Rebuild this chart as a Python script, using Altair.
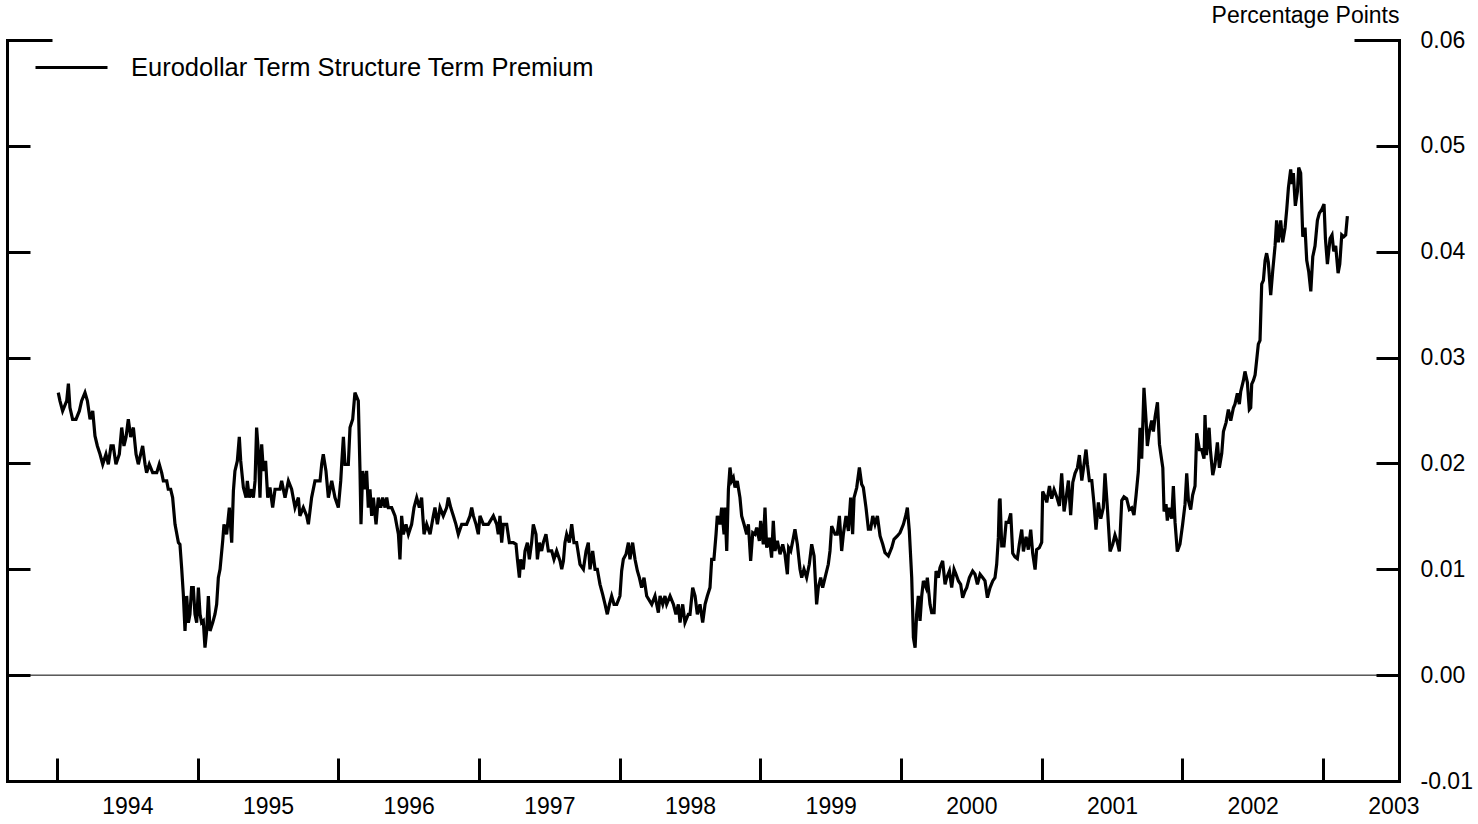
import altair as alt
import pandas as pd

SERIES = "Eurodollar Term Structure Term Premium"
FONT = "Liberation Sans"

# Weekly term premium, decimal year -> value (percentage points)
t_1994 = [1994.009, 1994.021, 1994.040, 1994.069, 1994.081, 1994.092, 1994.111, 1994.135, 1994.159, 1994.175,
          1994.199, 1994.216, 1994.235, 1994.254, 1994.270, 1994.287, 1994.306, 1994.325, 1994.348, 1994.365,
          1994.384, 1994.400, 1994.419, 1994.443, 1994.460, 1994.476, 1994.491, 1994.507, 1994.524, 1994.543,
          1994.562, 1994.578, 1994.595, 1994.609, 1994.626, 1994.637, 1994.656, 1994.680, 1994.709, 1994.727,
          1994.744, 1994.756, 1994.780, 1994.791, 1994.808, 1994.822, 1994.839, 1994.863, 1994.874, 1994.886,
          1994.898, 1994.910, 1994.922, 1994.934, 1994.945, 1994.957, 1994.969, 1994.981, 1994.993, 1995.005,
          1995.017, 1995.028, 1995.040, 1995.052, 1995.064, 1995.076, 1995.088, 1995.107, 1995.123, 1995.135,
          1995.147, 1995.159, 1995.178, 1995.187, 1995.206, 1995.225, 1995.242, 1995.254, 1995.265, 1995.282,
          1995.296, 1995.306, 1995.325, 1995.344, 1995.353, 1995.367, 1995.384, 1995.396, 1995.408, 1995.419,
          1995.431, 1995.443, 1995.455, 1995.467, 1995.483, 1995.498, 1995.514, 1995.533, 1995.550, 1995.585,
          1995.597, 1995.621, 1995.645, 1995.668, 1995.692, 1995.716, 1995.727, 1995.751, 1995.775, 1995.787,
          1995.810, 1995.834, 1995.870, 1995.882, 1995.893, 1995.912, 1995.929, 1995.953, 1995.976, 1996.000,
          1996.017, 1996.024, 1996.036, 1996.047, 1996.071, 1996.083, 1996.102, 1996.118, 1996.142, 1996.154,
          1996.161, 1996.173, 1996.190, 1996.201, 1996.213, 1996.225, 1996.237, 1996.249, 1996.268, 1996.284,
          1996.301, 1996.315, 1996.332, 1996.344, 1996.355, 1996.379, 1996.403, 1996.427, 1996.438, 1996.450,
          1996.462, 1996.481, 1996.498, 1996.521, 1996.538, 1996.557, 1996.576, 1996.592, 1996.609, 1996.628,
          1996.652, 1996.675, 1996.687, 1996.704, 1996.723, 1996.746, 1996.770, 1996.782, 1996.799, 1996.818,
          1996.836, 1996.853, 1996.877, 1996.912, 1996.936, 1996.948, 1996.960, 1996.979, 1996.995, 1997.007,
          1997.031, 1997.066, 1997.102, 1997.126, 1997.137]
v_1994 = [0.02669, 0.02591, 0.02496, 0.02591, 0.02754, 0.02528, 0.02417, 0.02417, 0.02496, 0.02591,
          0.02669, 0.02591, 0.02417, 0.02496, 0.02260, 0.02165, 0.02087, 0.01992, 0.02087, 0.01992,
          0.02165, 0.02165, 0.01992, 0.02087, 0.02339, 0.02165, 0.02250, 0.02417, 0.02250, 0.02339,
          0.02087, 0.01992, 0.02087, 0.02165, 0.01992, 0.01913, 0.01992, 0.01913, 0.01913, 0.01992,
          0.01913, 0.01835, 0.01835, 0.01756, 0.01756, 0.01677, 0.01425, 0.01252, 0.01236, 0.01016,
          0.00764, 0.00417, 0.00748, 0.00496, 0.00575, 0.00827, 0.00827, 0.00575, 0.00496, 0.00827,
          0.00575, 0.00496, 0.00512, 0.00260, 0.00417, 0.00748, 0.00417, 0.00496, 0.00575, 0.00669,
          0.00921, 0.01000, 0.01268, 0.01425, 0.01331, 0.01583, 0.01252, 0.01740, 0.01929, 0.02024,
          0.02250, 0.02024, 0.01772, 0.01677, 0.01835, 0.01677, 0.01756, 0.01677, 0.01835, 0.02339,
          0.02118, 0.01677, 0.02181, 0.01929, 0.02024, 0.01677, 0.01772, 0.01583, 0.01756, 0.01756,
          0.01835, 0.01677, 0.01835, 0.01756, 0.01583, 0.01677, 0.01504, 0.01583, 0.01504, 0.01425,
          0.01677, 0.01835, 0.01835, 0.01998, 0.02087, 0.01929, 0.01677, 0.01835, 0.01677, 0.01583,
          0.01835, 0.01998, 0.02250, 0.01992, 0.01992, 0.02339, 0.02417, 0.02669, 0.02591, 0.01929,
          0.01425, 0.01929, 0.01756, 0.01929, 0.01583, 0.01756, 0.01504, 0.01677, 0.01425, 0.01677,
          0.01583, 0.01677, 0.01583, 0.01677, 0.01583, 0.01583, 0.01504, 0.01331, 0.01094, 0.01504,
          0.01331, 0.01425, 0.01331, 0.01425, 0.01583, 0.01677, 0.01583, 0.01677, 0.01331, 0.01425,
          0.01331, 0.01504, 0.01583, 0.01425, 0.01583, 0.01504, 0.01583, 0.01677, 0.01583, 0.01504,
          0.01425, 0.01331, 0.01425, 0.01425, 0.01504, 0.01583, 0.01504, 0.01425, 0.01331, 0.01504,
          0.01425, 0.01425, 0.01504, 0.01425, 0.01331]

t_1997 = [1997.149, 1997.161, 1997.173, 1997.197, 1997.216, 1997.244, 1997.263, 1997.273, 1997.287, 1997.296,
          1997.315, 1997.327, 1997.344, 1997.358, 1997.374, 1997.386, 1997.405, 1997.415, 1997.429, 1997.445,
          1997.457, 1997.476, 1997.493, 1997.517, 1997.533, 1997.552, 1997.576, 1997.588, 1997.600, 1997.611,
          1997.623, 1997.642, 1997.659, 1997.675, 1997.694, 1997.718, 1997.742, 1997.761, 1997.777, 1997.789,
          1997.808, 1997.825, 1997.841, 1997.860, 1997.879, 1997.896, 1997.912, 1997.927, 1997.943, 1997.960,
          1997.979, 1998.002, 1998.014, 1998.026, 1998.045, 1998.062, 1998.073, 1998.092, 1998.109, 1998.126,
          1998.140, 1998.156, 1998.173, 1998.192, 1998.228, 1998.251, 1998.275, 1998.287, 1998.306, 1998.322,
          1998.334, 1998.358, 1998.382, 1998.400, 1998.417, 1998.429, 1998.448, 1998.464, 1998.488, 1998.500,
          1998.519, 1998.536, 1998.552, 1998.571, 1998.590, 1998.607, 1998.623, 1998.642, 1998.654, 1998.670,
          1998.685, 1998.694, 1998.713, 1998.725, 1998.742, 1998.749, 1998.761, 1998.773, 1998.784, 1998.796,
          1998.808, 1998.820, 1998.836, 1998.855, 1998.867, 1998.884, 1998.903, 1998.915, 1998.931, 1998.946,
          1998.962, 1998.974, 1998.993, 1999.002, 1999.021, 1999.033, 1999.045, 1999.064, 1999.080, 1999.092,
          1999.104, 1999.121, 1999.140, 1999.159, 1999.175, 1999.192, 1999.201, 1999.216, 1999.235, 1999.246,
          1999.263, 1999.282, 1999.294, 1999.310, 1999.329, 1999.348, 1999.365, 1999.382, 1999.400, 1999.412,
          1999.429, 1999.443, 1999.460, 1999.483, 1999.495, 1999.507, 1999.531, 1999.547, 1999.562, 1999.578,
          1999.590, 1999.609, 1999.626, 1999.642, 1999.656, 1999.666, 1999.685, 1999.704, 1999.720, 1999.732,
          1999.751, 1999.768, 1999.784, 1999.799, 1999.815, 1999.832, 1999.851, 1999.870, 1999.886, 1999.910,
          1999.934, 1999.950, 1999.974, 1999.993, 2000.017, 2000.036, 2000.045, 2000.059, 2000.076, 2000.088,
          2000.100, 2000.111, 2000.123, 2000.135, 2000.147, 2000.159, 2000.178, 2000.187, 2000.206, 2000.218,
          2000.235, 2000.249, 2000.265, 2000.277, 2000.296, 2000.313, 2000.325, 2000.344, 2000.360, 2000.377,
          2000.391, 2000.408, 2000.424, 2000.438, 2000.455, 2000.467, 2000.486, 2000.509, 2000.526, 2000.543,
          2000.562, 2000.581, 2000.597, 2000.614, 2000.633, 2000.652, 2000.668, 2000.680, 2000.692, 2000.699]
v_1997 = [0.01504, 0.01252, 0.01425, 0.01425, 0.01252, 0.01252, 0.01236, 0.01094, 0.00921, 0.01094,
          0.01000, 0.01173, 0.01252, 0.01094, 0.01252, 0.01425, 0.01331, 0.01094, 0.01252, 0.01173,
          0.01252, 0.01331, 0.01173, 0.01173, 0.01094, 0.01173, 0.01079, 0.01000, 0.01079, 0.01252,
          0.01331, 0.01252, 0.01425, 0.01252, 0.01252, 0.01047, 0.01000, 0.01173, 0.01252, 0.01000,
          0.01173, 0.01000, 0.01000, 0.00858, 0.00764, 0.00669, 0.00575, 0.00669, 0.00748, 0.00669,
          0.00669, 0.00748, 0.00984, 0.01094, 0.01142, 0.01252, 0.01094, 0.01252, 0.01094, 0.00984,
          0.00921, 0.00827, 0.00921, 0.00748, 0.00669, 0.00748, 0.00591, 0.00748, 0.00669, 0.00748,
          0.00669, 0.00748, 0.00669, 0.00575, 0.00669, 0.00496, 0.00669, 0.00496, 0.00575, 0.00575,
          0.00827, 0.00748, 0.00575, 0.00669, 0.00496, 0.00669, 0.00748, 0.00827, 0.01094, 0.01094,
          0.01331, 0.01504, 0.01425, 0.01583, 0.01331, 0.01583, 0.01173, 0.01756, 0.01961, 0.01835,
          0.01866, 0.01772, 0.01835, 0.01677, 0.01504, 0.01425, 0.01331, 0.01425, 0.01079, 0.01346,
          0.01331, 0.01394, 0.01268, 0.01457, 0.01236, 0.01583, 0.01205, 0.01299, 0.01110, 0.01457,
          0.01173, 0.01268, 0.01142, 0.01236, 0.01142, 0.00953, 0.01205, 0.01173, 0.01299, 0.01378,
          0.01236, 0.01000, 0.00921, 0.01000, 0.00921, 0.01047, 0.01236, 0.01126, 0.00669, 0.00827,
          0.00921, 0.00827, 0.00921, 0.01047, 0.01173, 0.01409, 0.01331, 0.01331, 0.01504, 0.01173,
          0.01331, 0.01504, 0.01362, 0.01677, 0.01331, 0.01677, 0.01772, 0.01961, 0.01803, 0.01772,
          0.01583, 0.01378, 0.01378, 0.01504, 0.01425, 0.01504, 0.01315, 0.01236, 0.01157, 0.01126,
          0.01205, 0.01283, 0.01315, 0.01346, 0.01425, 0.01520, 0.01583, 0.01362, 0.00921, 0.00354,
          0.00260, 0.00575, 0.00748, 0.00512, 0.00748, 0.00890, 0.00827, 0.00921, 0.00669, 0.00591,
          0.00591, 0.00984, 0.00921, 0.01016, 0.01079, 0.00858, 0.00921, 0.00984, 0.00827, 0.01000,
          0.00953, 0.00890, 0.00858, 0.00732, 0.00795, 0.00827, 0.00921, 0.00984, 0.00953, 0.00858,
          0.00953, 0.00921, 0.00890, 0.00732, 0.00827, 0.00890, 0.00921, 0.01047, 0.01299, 0.01646]

t_2000 = [2000.704, 2000.716, 2000.732, 2000.747, 2000.763, 2000.780, 2000.794, 2000.810, 2000.827, 2000.841,
          2000.858, 2000.870, 2000.889, 2000.905, 2000.922, 2000.936, 2000.953, 2000.964, 2000.983, 2001.000,
          2001.007, 2001.024, 2001.036, 2001.055, 2001.071, 2001.088, 2001.107, 2001.126, 2001.142, 2001.159,
          2001.173, 2001.190, 2001.206, 2001.221, 2001.237, 2001.254, 2001.268, 2001.285, 2001.301, 2001.315,
          2001.325, 2001.339, 2001.356, 2001.372, 2001.386, 2001.403, 2001.420, 2001.438, 2001.450, 2001.467,
          2001.486, 2001.505, 2001.521, 2001.538, 2001.552, 2001.569, 2001.585, 2001.604, 2001.623, 2001.640,
          2001.656, 2001.671, 2001.687, 2001.699, 2001.711, 2001.718, 2001.727, 2001.742, 2001.751, 2001.765,
          2001.782, 2001.794, 2001.806, 2001.823, 2001.837, 2001.846, 2001.861, 2001.870, 2001.884, 2001.893,
          2001.908, 2001.924, 2001.936, 2001.948, 2001.964, 2001.983, 2002.002, 2002.019, 2002.031, 2002.043,
          2002.059, 2002.073, 2002.090, 2002.102, 2002.121, 2002.137, 2002.154, 2002.161, 2002.171, 2002.190,
          2002.199, 2002.216, 2002.232, 2002.249, 2002.263, 2002.280, 2002.292, 2002.311, 2002.327, 2002.344,
          2002.363, 2002.374, 2002.391, 2002.405, 2002.415, 2002.434, 2002.445, 2002.462, 2002.476, 2002.486,
          2002.493, 2002.505, 2002.517, 2002.528, 2002.540, 2002.552, 2002.564, 2002.576, 2002.588, 2002.599,
          2002.611, 2002.628, 2002.642, 2002.659, 2002.670, 2002.682, 2002.699, 2002.713, 2002.730, 2002.742,
          2002.754, 2002.770, 2002.780, 2002.789, 2002.803, 2002.818, 2002.827, 2002.841, 2002.856, 2002.872,
          2002.884, 2002.898, 2002.913, 2002.927, 2002.943, 2002.960, 2002.974, 2002.991, 2003.007, 2003.017,
          2003.031, 2003.050, 2003.064, 2003.076, 2003.090, 2003.107, 2003.119, 2003.133, 2003.147, 2003.161,
          2003.173]
v_2000 = [0.01667, 0.01220, 0.01220, 0.01443, 0.01443, 0.01529, 0.01151, 0.01117, 0.01100, 0.01237,
          0.01375, 0.01168, 0.01306, 0.01186, 0.01375, 0.01151, 0.00997, 0.01186, 0.01203, 0.01254,
          0.01735, 0.01684, 0.01632, 0.01787, 0.01667, 0.01753, 0.01684, 0.01598, 0.01907, 0.01546,
          0.01667, 0.01838, 0.01512, 0.01821, 0.01907, 0.01959, 0.02079, 0.01838, 0.01993, 0.02131,
          0.01993, 0.01838, 0.01838, 0.01615, 0.01375, 0.01632, 0.01478, 0.01581, 0.01907, 0.01581,
          0.01168, 0.01237, 0.01323, 0.01254, 0.01168, 0.01649, 0.01684, 0.01667, 0.01564, 0.01581,
          0.01512, 0.01701, 0.01924, 0.02337, 0.02045, 0.02337, 0.02715, 0.02405, 0.02165, 0.02302,
          0.02405, 0.02302, 0.02440, 0.02577, 0.02182, 0.02096, 0.01959, 0.01546, 0.01615, 0.01460,
          0.01581, 0.01478, 0.01787, 0.01443, 0.01168, 0.01237, 0.01426, 0.01615, 0.01907, 0.01649,
          0.01564, 0.01701, 0.01787, 0.02285, 0.02131, 0.02131, 0.02045, 0.02457, 0.02079, 0.02337,
          0.02131, 0.01890, 0.01993, 0.02199, 0.01959, 0.02096, 0.02302, 0.02388, 0.02509, 0.02405,
          0.02526, 0.02560, 0.02663, 0.02560, 0.02680, 0.02784, 0.02869, 0.02766, 0.02509, 0.02526,
          0.02749, 0.02784, 0.02835, 0.02973, 0.03127, 0.03162, 0.03694, 0.03729, 0.03918, 0.03986,
          0.03900, 0.03591, 0.03814, 0.04055, 0.04296, 0.04089, 0.04296, 0.04089, 0.04227, 0.04399,
          0.04605, 0.04777, 0.04639, 0.04742, 0.04433, 0.04570, 0.04794, 0.04742, 0.04141, 0.04227,
          0.03918, 0.03814, 0.03625, 0.03952, 0.04055, 0.04296, 0.04364, 0.04399, 0.04450, 0.04124,
          0.03883, 0.04124, 0.04158, 0.04003, 0.04055, 0.03797, 0.03883, 0.04158, 0.04141, 0.04158,
          0.04337]

# Axis positions
tick_years = [1994, 1995, 1996, 1997, 1998, 1999, 2000, 2001, 2002, 2003]
label_years = [1994.5, 1995.5, 1996.5, 1997.5, 1998.5, 1999.5, 2000.5, 2001.5, 2002.5, 2003.5]
y_ticks = [-0.01, 0.0, 0.01, 0.02, 0.03, 0.04, 0.05, 0.06]
zero_level = [0.0]

assert len(t_1994) == len(v_1994)
assert len(t_1997) == len(v_1997)
assert len(t_2000) == len(v_2000)

df = pd.DataFrame({
    "year": t_1994 + t_1997 + t_2000,
    "premium": v_1994 + v_1997 + v_2000,
})
df["series"] = SERIES
zero_df = pd.DataFrame({"level": zero_level})

W, H = 1392, 741
xs = alt.Scale(domain=[1993.6446, 2003.540], nice=False, zero=False)
ys = alt.Scale(domain=[-0.01, 0.06], nice=False, zero=False)

inward_size = {"condition": {"test": "datum.value > 0.059", "value": 45}, "value": 23}

# Bottom year labels centred in each year, right-hand value labels (plain hyphen for negatives)
x_labels = alt.Axis(orient="bottom", values=label_years, labelExpr="format(floor(datum.value), 'd')",
                    ticks=False, domain=True, domainColor="black", domainWidth=3, domainCap="square",
                    labelFont=FONT, labelFontSize=23, labelColor="black", labelPadding=14,
                    labelFlush=False, labelOverlap=False, grid=False, title=None)
y_labels = alt.Axis(orient="right", values=y_ticks,
                    labelExpr="datum.value < 0 ? '-' + format(-datum.value, '.2f') : format(datum.value, '.2f')",
                    ticks=False, domain=True, domainColor="black", domainWidth=3, domainCap="square",
                    labelFont=FONT, labelFontSize=23, labelColor="black", labelPadding=21,
                    labelFlush=False, labelOverlap=False, grid=False,
                    title="Percentage Points", titleAngle=0, titleAlign="right",
                    titleBaseline="alphabetic", titleX=0, titleY=-18, titleFont=FONT,
                    titleFontSize=23, titleFontWeight="normal", titleColor="black")

# Inward-pointing ticks along the bottom, left and right edges
x_inner = alt.Axis(orient="top", offset=-H, values=tick_years, labels=False, ticks=True,
                   tickSize=23, tickWidth=3, tickColor="black", domain=False, grid=False, title=None)
y_inner_left = alt.Axis(orient="right", offset=-W, values=y_ticks, labels=False, ticks=True,
                        tickSize=inward_size, tickWidth=3, tickColor="black",
                        domain=True, domainColor="black", domainWidth=3, domainCap="square",
                        grid=False, title=None)
y_inner_right = alt.Axis(orient="left", offset=-W, values=y_ticks, labels=False, ticks=True,
                         tickSize=inward_size, tickWidth=3, tickColor="black",
                         domain=False, grid=False, title=None)

zero_rule = alt.Chart(zero_df).mark_rule(color="black", strokeWidth=1).encode(
    y=alt.Y("level:Q", scale=ys, axis=y_inner_left)
)

tick_frame = alt.Chart(df).mark_line(strokeOpacity=0).encode(
    x=alt.X("year:Q", scale=xs, axis=x_inner),
    y=alt.Y("premium:Q", scale=ys, axis=y_inner_right),
)

line = alt.Chart(df).mark_line(strokeWidth=3.2).encode(
    x=alt.X("year:Q", scale=xs, axis=x_labels),
    y=alt.Y("premium:Q", scale=ys, axis=y_labels),
    color=alt.Color("series:N", scale=alt.Scale(domain=[SERIES], range=["black"]),
                    legend=alt.Legend(orient="none", legendX=27, legendY=-10, title=None,
                                      symbolType="stroke", symbolSize=5184, symbolStrokeWidth=3,
                                      labelFont=FONT, labelFontSize=25.5, labelColor="black",
                                      labelOffset=22, labelLimit=0, padding=0)),
)

chart = alt.layer(zero_rule, tick_frame, line).resolve_axis(
    x="independent", y="independent"
).properties(
    width=W, height=H,
    autosize=alt.AutoSizeParams(type="none"),
    padding={"left": 7, "top": 40, "right": 79, "bottom": 43},
    background="white",
).configure_view(stroke=None)

chart.save("out.html", embed_options={"renderer": "svg", "actions": False})
